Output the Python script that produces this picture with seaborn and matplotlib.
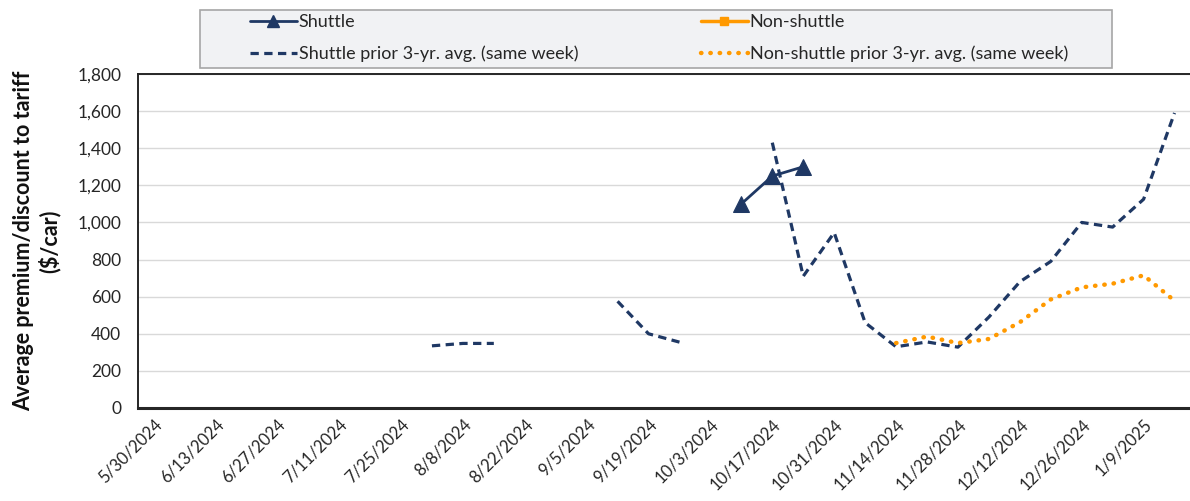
import numpy as np
import pandas as pd
import matplotlib
matplotlib.use("Agg")
import matplotlib.pyplot as plt
from matplotlib.lines import Line2D
from matplotlib.patches import Rectangle
from matplotlib.ticker import FuncFormatter
import seaborn as sns

# weekly categories, 5/30/2024 .. 1/16/2025
weeks = pd.date_range("2024-05-30", periods=34, freq="7D")
nan = np.nan

shuttle = [nan] * 19 + [1100, 1250, 1300] + [nan] * 12
non_shuttle = [nan] * 34
shuttle_prior = ([nan] * 9 + [335, 348, 348] + [nan] * 3 + [575, 400, 355]
                 + [nan] * 2 + [1430, 710, 945, 460, 330, 356, 328, 490,
                                680, 790, 1000, 975, 1125, 1590])
non_shuttle_prior = ([nan] * 24 + [350, 385, 350, 372, 462, 585, 650, 670,
                                   715, 578])

tick_idx = list(range(0, 34, 2))
tick_labels = [f"{d.month}/{d.day}/{d.year}" for d in weeks[tick_idx]]

navy = "#1F3864"
orange = "#FF9900"

sns.set_style("white")
plt.rcParams["font.family"] = ["Lato", "DejaVu Sans"]

fig = plt.figure(figsize=(11.9, 5.01), dpi=100)
ax = fig.add_axes([138 / 1190, 93 / 501, 1052 / 1190, 334 / 501])

df = pd.DataFrame({
    "week": np.arange(len(weeks)),
    "Shuttle": shuttle,
    "Non-shuttle": non_shuttle,
    "Shuttle prior": shuttle_prior,
    "Non-shuttle prior": non_shuttle_prior,
})


def segments(col):
    s = df[["week", col]].dropna()
    grp = (s["week"].diff() != 1).cumsum()
    return [g for _, g in s.groupby(grp)]


for seg in segments("Shuttle prior"):
    sns.lineplot(data=seg, x="week", y="Shuttle prior", ax=ax, color=navy,
                 lw=2.3, linestyle=(0, (2.6, 1.7)))
for seg in segments("Non-shuttle prior"):
    sns.lineplot(data=seg, x="week", y="Non-shuttle prior", ax=ax, color=orange,
                 lw=3.2, linestyle=(0, (0.1, 2.0)), dash_capstyle="round")
for seg in segments("Shuttle"):
    sns.lineplot(data=seg, x="week", y="Shuttle", ax=ax, color=navy, lw=2,
                 marker="^", markersize=11, markeredgecolor=navy)

ax.set_xlim(-0.5, 33.5)
ax.set_ylim(0, 1800)
ax.set_yticks(range(0, 1801, 200))
ax.yaxis.set_major_formatter(FuncFormatter(lambda v, p: f"{int(v):,}"))
ax.set_xticks(tick_idx)
ax.set_xticklabels(tick_labels, rotation=45, ha="right", rotation_mode="anchor",
                   fontsize=12, color="#262626")
ax.tick_params(axis="y", labelsize=12.5, labelcolor="#262626", length=0, pad=12)
ax.tick_params(axis="x", length=0, pad=6)
ax.grid(axis="y", color="#D9D9D9", lw=1)
ax.set_xlabel("")
ax.set_ylabel("Average premium/discount to tariff\n($/car)", fontsize=15.5,
              fontweight="bold", labelpad=12, color="#111111")

for side in ["left", "top"]:
    ax.spines[side].set_color("#262626")
    ax.spines[side].set_linewidth(1.4)
ax.spines["bottom"].set_color("#262626")
ax.spines["bottom"].set_linewidth(2.2)
ax.spines["right"].set_visible(False)

# legend box
fig.patches.append(Rectangle((200 / 1190, 433 / 501), 912 / 1190, 58 / 501,
                             transform=fig.transFigure, facecolor="#F1F2F4",
                             edgecolor="#A6A6A6", lw=1.2, zorder=0))
handles = [
    Line2D([], [], color=navy, lw=2, marker="^", markersize=8),
    Line2D([], [], color=navy, lw=2.3, linestyle=(0, (2.6, 1.7))),
    Line2D([], [], color=orange, lw=2.5, marker="s", markersize=6),
    Line2D([], [], color=orange, lw=3.2, linestyle=(0, (0.1, 2.0)),
           dash_capstyle="round"),
]
labels = ["Shuttle", "Shuttle prior 3-yr. avg. (same week)",
          "Non-shuttle", "Non-shuttle prior 3-yr. avg. (same week)"]
fig.legend(handles, labels, ncol=2, loc="center",
           bbox_to_anchor=(659 / 1190, 463 / 501), frameon=False,
           fontsize=13, handlelength=2.6, handletextpad=0.1,
           columnspacing=6.8, labelspacing=0.85)

plt.savefig("out.png", dpi=100)
